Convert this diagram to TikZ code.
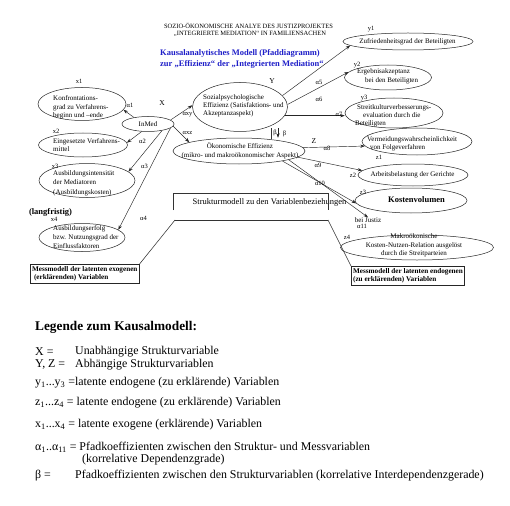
\documentclass[tikz,border=0pt]{standalone}
\usepackage{fontspec}
\setmainfont{Liberation Serif}
\usetikzlibrary{positioning, arrows.meta, shapes.geometric}
\definecolor{titleblue}{RGB}{30,30,200}

\begin{document}
\begin{tikzpicture}[x=1pt, y=-1pt,
  latent/.style={ellipse, draw=black!85, line width=0.5pt, inner sep=0pt},
  ltext/.style={anchor=west, inner sep=0pt, align=left,
                font=\fontsize{7}{8.6}\selectfont},
  ctext/.style={inner sep=0pt, align=center, font=\fontsize{7}{8.6}\selectfont},
  lbl/.style={inner sep=0pt, font=\fontsize{6.5}{7}\selectfont},
  arr/.style={-{Stealth[length=4.5pt, width=3.2pt]}, line width=0.45pt, black!85},
  frame/.style={line width=0.55pt, black!80},
  mess/.style={draw=black!85, line width=0.6pt, anchor=north west, align=left,
               inner sep=1.8pt, font=\fontsize{7.2}{8.6}\selectfont\bfseries},
  legend/.style={anchor=west, inner sep=0pt, font=\fontsize{11.9}{13}\selectfont},
]
\path[use as bounding box, fill=white] (0,0) rectangle (510,505);

% --- Titel ---
\node[inner sep=0pt, font=\fontsize{6.5}{7}\selectfont] (head1) at (248.5,26)
  {SOZIO-ÖKONOMISCHE ANALYE DES JUSTIZPROJEKTES};
\node[inner sep=0pt, font=\fontsize{6.5}{7}\selectfont] (head2) at (250,33.5)
  {„INTEGRIERTE MEDIATION“ IN FAMILIENSACHEN};
\node[anchor=west, inner sep=0pt, text=titleblue, font=\fontsize{8.5}{9}\selectfont\bfseries]
  (title1) at (160,53.5) {Kausalanalytisches Modell (Pfaddiagramm)};
\node[anchor=west, inner sep=0pt, text=titleblue, font=\fontsize{8.5}{9}\selectfont\bfseries]
  (title2) at (160,64) {zur „Effizienz“ der „Integrierten Mediation“};

% --- Messmodell exogen (links) ---
\node[latent, minimum width=88, minimum height=33] (x1e) at (82,104) {};
\node[ltext] (x1t) at (53,107.5) {Konfrontations-\\grad zu Verfahrens-\\beginn und –ende};
\node[lbl] (x1l) at (79,81) {x1};

\node[latent, minimum width=89, minimum height=24] (x2e) at (83,145) {};
\node[ltext] (x2t) at (53,145) {Eingesetzte Verfahrens-\\mittel};
\node[lbl] (x2l) at (56,131) {x2};

\node[latent, minimum width=96, minimum height=34] (x3e) at (87,180.5) {};
\node[ltext, font=\fontsize{7}{9.5}\selectfont] (x3t) at (53,183)
  {Ausbildungsintensität\\der Mediatoren\\(Ausbildungskosten)};
\node[lbl] (x3l) at (55,166) {x3};

\node[inner sep=0pt, font=\fontsize{8.5}{9}\selectfont\bfseries] (lang) at (50.5,212) {(langfristig)};
\node[latent, minimum width=86, minimum height=28] (x4e) at (82,237.5) {};
\node[ltext, font=\fontsize{7}{9}\selectfont] (x4t) at (53,237)
  {Ausbildungserfolg\\bzw. Nutzungsgrad der\\Einflussfaktoren};
\node[lbl] (x4l) at (54,219) {x4};

% --- Strukturmodell ---
\node[latent, minimum width=52, minimum height=15, font=\fontsize{7}{8}\selectfont]
  (inmed) at (148,124) {InMed};
\node[lbl, font=\fontsize{7.5}{8}\selectfont] (xl) at (162,103) {X};

\node[latent, minimum width=95, minimum height=49] (sozial) at (240,107) {};
\node[ltext, font=\fontsize{7}{8.2}\selectfont] (sozialt) at (203,106)
  {Sozialpsychologische\\Effizienz (Satisfaktions- und\\Akzeptanzaspekt)};
\node[lbl, font=\fontsize{7.5}{8}\selectfont] (yl) at (272,81) {Y};

\node[latent, minimum width=132, minimum height=26] (oekon) at (239,151) {};
\node[ctext] (oekont) at (240,151) {Ökonomische Effizienz\\(mikro- und makroökonomischer Aspekt)};
\node[lbl, font=\fontsize{7.5}{8}\selectfont] (zl) at (314,141) {Z};

% --- Messmodell endogen (rechts) ---
\node[latent, minimum width=130, minimum height=17] (y1e) at (408,41.5) {};
\node[ctext] (y1t) at (407.5,42) {Zufriedenheitsgrad der Beteiligten};
\node[lbl] (y1l) at (371,29) {y1};

\node[latent, minimum width=87, minimum height=25] (y2e) at (388,77.5) {};
\node[ltext] (y2t) at (357,76.5) {Ergebnisakzeptanz\\\hspace*{8pt}bei den Beteiligten};
\node[lbl] (y2l) at (357,65) {y2};

\node[latent, minimum width=98, minimum height=30] (y3e) at (394,113) {};
\node[ltext, font=\fontsize{7}{8}\selectfont] (y3t) at (355,116)
  {\hspace*{2pt}Streitkulturverbesserungs-\\\hspace*{8pt}evaluation durch die\\Beteiligten};
\node[lbl] (y3l) at (364,98) {y3};

\node[latent, minimum width=110, minimum height=27] (z1e) at (417,141.5) {};
\node[ltext] (z1t) at (367,144) {Vermeidungswahrscheinlichkeit\\\hspace*{3pt}von Folgeverfahren};
\node[lbl] (z1l) at (379,157) {z1};

\node[latent, minimum width=110, minimum height=22] (z2e) at (413,175) {};
\node[ctext] (z2t) at (412.5,174.5) {Arbeitsbelastung der Gerichte};
\node[lbl] (z2l) at (353,175) {z2};

\node[latent, minimum width=112, minimum height=25] (z3e) at (411,200.5) {};
\node[inner sep=0pt, font=\fontsize{8.5}{9}\selectfont\bfseries] (z3t) at (416.5,200) {Kostenvolumen};
\node[lbl] (z3l) at (363,192) {z3};

\node[ctext] (justiz) at (368,220) {bei Justiz};
\node[lbl, below=1pt of justiz, xshift=-6pt] (a11) {α11};

\node[latent, minimum width=153, minimum height=25] (z4e) at (417,247.5) {};
\node[ctext] (z4t) at (414,245.5) {Makroökonische\\Kosten-Nutzen-Relation ausgelöst\\durch die Streitparteien};
\node[lbl] (z4l) at (347,237) {z4};

% --- Pfade ---
\draw[arr] (inmed.155) -- (x1e.-8);
\draw[arr] (inmed.-130) -- (x2e.3);
\draw[arr] (inmed.-25) -- (x3e.12);
\draw[arr] (inmed.-10) -- (x4e.12);
\draw[arr] (inmed.10) -- (sozial.178);
\draw[arr] (inmed.-5) -- (oekon.170);
\draw[arr] (sozial.15) -- (y1e.184);
\draw[arr] (sozial.3) -- (y2e.172);
\draw[arr] (sozial.-11) -- (sozial.-11 -| y3e.west);
\draw[arr] (oekon.3) -- (z1e.185);
\draw[arr] (oekon.-6) -- (z2e.175);
\draw[arr] (oekon.-13) -- (z3e.183);
\draw[arr] (oekon.-10) -- (justiz.north);

% beta zwischen Y und Z
\draw[frame] ([xshift=31pt, yshift=3.5pt]sozial.south) -- ++(0,10.5);
\draw[arr] ([xshift=38pt, yshift=3.5pt]sozial.south) -- ++(0,9.5);
\node[lbl] (b1) at (275,133) {β};
\node[lbl] (b2) at (284.5,133.5) {β};

% --- Pfadkoeffizienten ---
\node[lbl] (a1) at (130,105) {α1};
\node[lbl] (a2) at (142.5,141) {α2};
\node[lbl] (a3) at (144.5,166) {α3};
\node[lbl] (a4) at (143.5,218) {α4};
\node[lbl] (axy) at (187.5,115) {αxy};
\node[lbl] (axz) at (187.5,132.5) {αxz};
\node[lbl] (a5) at (319,82) {α5};
\node[lbl] (a6) at (319,99) {α6};
\node[lbl] (a7) at (339,114) {α7};
\node[lbl] (a8) at (327,148) {α8};
\node[lbl] (a9) at (318,165) {α9};
\node[lbl] (a10) at (320,183) {α10};

% --- Strukturmodell-Kasten und Messmodell-Legenden ---
\node[inner sep=0pt, font=\fontsize{8.5}{9}\selectfont] (struktur) at (269.5,202)
  {Strukturmodell zu den Variablenbeziehungen};
\draw[frame] (173,210) -- (173,193) -- (328,193) -- (328,210);
\coordinate (lfoot) at (175,220);
\coordinate (rfoot) at (328,220);
\draw[frame] (lfoot) -- (rfoot);

\node[mess] (messx) at (30,264) {Messmodell der latenten exogenen\\\hspace*{2pt}(erklärenden) Variablen};
\node[mess] (messy) at (351,266) {Messmodell der latenten endogenen\\(zu erklärenden) Variablen};
\draw[frame] (lfoot) -- (messx.north east);
\draw[frame] (rfoot) -- (messy.north west);

% --- Legende ---
\node[legend, font=\fontsize{13.3}{14}\selectfont\bfseries] (legt) at (35,327) {Legende zum Kausalmodell:};
\node[legend] (leg1a) at (35,352) {X =};
\node[legend] (leg1b) at (75,352) {Unabhängige Strukturvariable};
\node[legend] (leg2a) at (35,365) {Y, Z =};
\node[legend] (leg2b) at (75,365) {Abhängige Strukturvariablen};
\node[legend] (leg3) at (35,383) {y\textsubscript{1}...y\textsubscript{3} =latente endogene (zu erklärende) Variablen};
\node[legend] (leg4) at (35,403) {z\textsubscript{1}...z\textsubscript{4} = latente endogene (zu erklärende) Variablen};
\node[legend] (leg5) at (35,425) {x\textsubscript{1}...x\textsubscript{4} = latente exogene (erklärende) Variablen};
\node[legend] (leg6) at (35,447) {α\textsubscript{1}..α\textsubscript{11} = Pfadkoeffizienten zwischen den Struktur- und Messvariablen};
\node[legend] (leg7) at (82,460) {(korrelative Dependenzgrade)};
\node[legend] (leg8a) at (35,476) {β =};
\node[legend] (leg8b) at (75,476) {Pfadkoeffizienten zwischen den Strukturvariablen (korrelative Interdependenzgerade)};

\end{tikzpicture}
\end{document}
